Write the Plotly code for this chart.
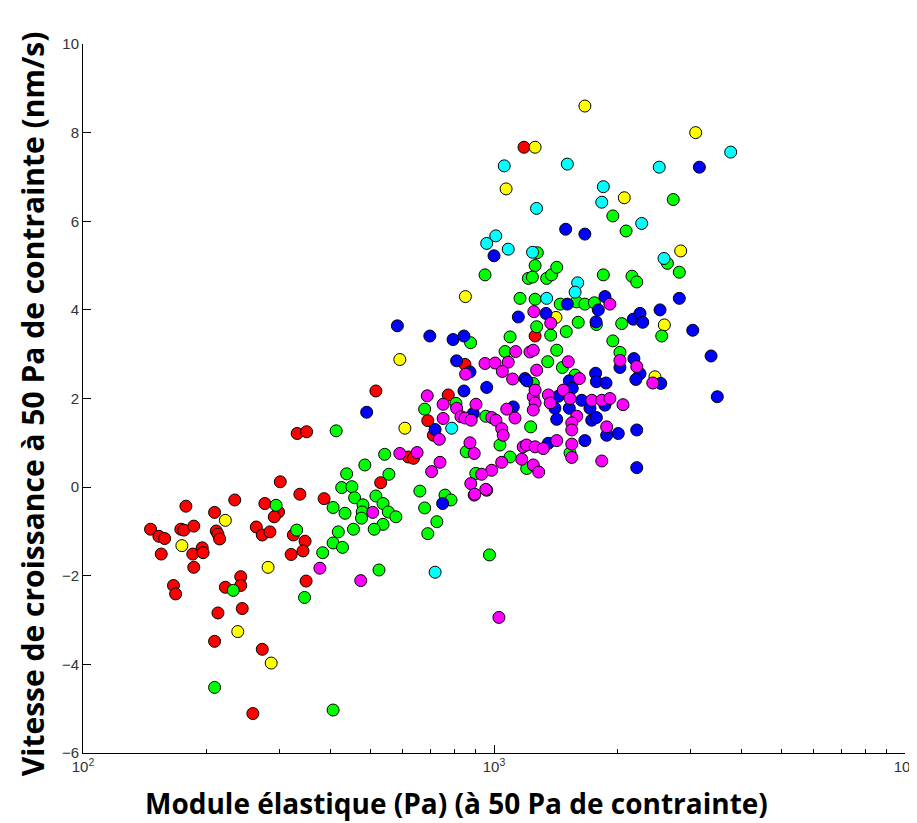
import plotly.graph_objects as go

# Data: elastic modulus (Pa) vs growth speed (nm/s)
red_x = [332, 350, 302, 337, 386, 178, 234, 277, 299, 292, 209, 146, 153, 158, 173, 176,
         186, 211, 213, 215, 264, 273, 285, 325, 347, 343, 321, 155, 185, 195, 196, 186,
         242, 349, 166, 168, 222, 242, 213, 244, 209, 273, 259, 516, 1259, 850, 774, 690,
         712, 619, 637, 530, 1183]
red_y = [1.21, 1.25, 0.12, -0.16, -0.26, -0.43, -0.29, -0.37, -0.56, -0.67, -0.57, -0.95,
         -1.11, -1.16, -0.95, -0.97, -0.88, -0.99, -1.06, -1.17, -0.9, -1.08, -1.01, -1.08,
         -1.22, -1.44, -1.52, -1.51, -1.51, -1.37, -1.48, -1.81, -2.02, -2.12, -2.22, -2.41,
         -2.26, -2.22, -2.84, -2.74, -3.48, -3.66, -5.11, 2.17, 3.41, 2.77, 2.08, 1.5,
         1.17, 0.68, 0.65, 0.1, 7.67]

yellow_x = [222, 174, 282, 238, 287, 590, 607, 852, 1259, 1070, 1664, 3095, 2075, 2846,
            1415, 2597, 2464]
yellow_y = [-0.75, -1.32, -1.81, -3.26, -3.97, 2.88, 1.33, 4.3, 7.67, 6.73, 8.6, 8.0, 6.53,
            5.33, 3.83, 3.66, 2.49]

green_x = [413, 426, 438, 406, 434, 295, 331, 418, 406, 428, 383, 232, 346, 209, 406,
           1157, 1259, 877, 1094, 1064, 1246, 808, 678, 955, 1228, 1034, 856, 542, 485,
           555, 451, 660, 516, 458, 760, 1094, 903, 1201,
           480, 478, 476, 537, 553, 577, 537, 511, 455, 678, 726, 690, 786, 975, 525,
           1259, 951, 1212, 1240, 1275, 1343, 1380, 1421, 1845, 2166, 2225, 1946, 2096,
           2730, 2642, 2824,
           1449, 1588, 1664, 1755, 1270, 1374, 1499, 1603, 1775, 2045, 2559, 1946, 2025,
           1421, 1351, 1467, 1575, 1531]
green_y = [1.27, -0.01, 0.3, -0.46, -0.59, -0.41, -0.97, -1.01, -1.26, -1.36, -1.48, -2.33,
           -2.49, -4.52, -5.03,
           4.26, 4.24, 3.26, 3.39, 3.06, 2.34, 1.89, 1.76, 1.6, 1.36, 0.95, 0.8, 0.74, 0.5,
           0.29, 0.01, -0.09, -0.2, -0.24, -0.18, 0.68, 0.31, 0.42,
           -0.4, -0.56, -0.7, -0.37, -0.56, -0.67, -0.84, -0.95, -0.95, -0.47, -0.78, -1.05,
           -0.29, -1.53, -1.87,
           5.0, 4.79, 4.71, 4.74, 5.29, 4.71, 4.79, 4.96, 4.79, 4.76, 4.63, 6.12, 5.78,
           6.49, 5.05, 4.85,
           4.13, 4.18, 4.13, 4.16, 3.62, 3.43, 3.51, 3.72, 3.67, 3.69, 3.41, 3.3, 3.04,
           3.09, 2.83, 2.7, 2.53, 0.77]

cyan_x = [789, 719, 1059, 1269, 1010, 960, 1083, 1241, 1508, 2524, 3766, 1845, 1829, 2287,
          2592, 1598, 1575, 1343]
cyan_y = [1.33, -1.92, 7.25, 6.29, 5.67, 5.5, 5.37, 5.3, 7.29, 7.22, 7.56, 6.78, 6.43,
          5.95, 5.16, 4.61, 4.4, 4.26]

blue_x = [582, 698, 795, 845, 811, 874, 490, 845, 960, 890, 719, 1190, 1202, 1114, 1146,
          750, 1000, 3160, 1494, 1664, 1862, 2824, 1508, 1338, 1794, 1771, 2182, 2266,
          2301, 2535, 3045, 3374, 3494, 2025, 2190, 2266, 2214, 2545, 1525, 1550, 1767,
          1775, 1873, 1434, 1634, 1862, 1712, 1525, 1407, 1421, 1729, 1775, 1880, 2006,
          2225, 1664, 1356, 2225]
blue_y = [3.64, 3.41, 3.33, 3.41, 2.85, 2.6, 1.69, 2.17, 2.25, 1.66, 1.3, 2.45, 2.4, 1.81,
          3.84, -0.37, 5.22, 7.22, 5.82, 5.71, 4.3, 4.26, 4.13, 3.92, 4.0, 3.73, 3.79,
          3.92, 3.72, 4.0, 3.54, 2.96, 2.04, 2.7, 2.9, 2.56, 2.43, 2.34, 2.4, 2.23, 2.57,
          2.38, 2.35, 2.05, 1.96, 1.85, 1.78, 1.78, 1.78, 1.53, 1.51, 1.57, 1.17, 1.21,
          1.29, 1.05, 0.99, 0.44]

magenta_x = [377, 474, 507, 895, 960, 1028, 1250, 853, 951, 1006, 1083, 1048, 1129, 1223,
             1246, 1270, 1110, 688, 752, 811, 904, 752, 831, 850, 880, 987, 1011, 1074,
             1125, 1246, 1259, 1246, 736, 1044, 1053, 874, 895, 1178, 1200, 1259, 590,
             650, 739, 705, 1168, 1044, 987, 933, 878, 955, 898, 1246, 1285,
             1914, 1374, 1516, 1613, 1475, 2025, 2225, 2434, 1259, 1356, 1370, 1531, 1729,
             1829, 1914, 2060, 1590, 1546, 1546, 1880, 1546, 1421, 1318, 1546, 1829]
magenta_y = [-1.83, -2.11, -0.57, -0.18, -0.07, -2.94, 3.96, 2.55, 2.79, 2.8, 2.82, 2.61,
             3.06, 3.05, 3.09, 2.64, 2.44, 2.06, 1.87, 1.78, 1.87, 1.55, 1.59, 1.56, 1.51,
             1.57, 1.51, 1.76, 1.56, 2.04, 1.9, 1.74, 1.08, 1.32, 1.17, 1.0, 0.76, 0.91,
             0.95, 0.91, 0.76, 0.78, 0.56, 0.35, 0.63, 0.56, 0.38, 0.29, 0.08, -0.05,
             -0.16, 0.5, 0.34,
             4.13, 3.7, 2.83, 2.45, 2.19, 2.86, 2.72, 2.35, 2.19, 2.08, 1.9, 2.0, 1.96,
             1.96, 2.0, 1.86, 1.6, 1.45, 1.29, 1.36, 0.97, 1.05, 0.87, 0.67, 0.59]

SERIES = [
    (red_x, red_y, "#ff0000"),
    (yellow_x, yellow_y, "#ffff00"),
    (green_x, green_y, "#00ff00"),
    (cyan_x, cyan_y, "#00ffff"),
    (blue_x, blue_y, "#0000ff"),
    (magenta_x, magenta_y, "#ff00ff"),
]

X_TICKS = [100, 1000, 10000]
X_TICK_TEXT = ["10<sup>2</sup>", "10<sup>3</sup>", "10<sup>4</sup>"]
X_MINOR = [200, 300, 400, 500, 600, 700, 800, 900,
           2000, 3000, 4000, 5000, 6000, 7000, 8000, 9000]
Y_TICKS = [-6, -4, -2, 0, 2, 4, 6, 8, 10]

TICK_FONT = dict(family="Liberation Sans", size=15, color="#333333")

fig = go.Figure()
for xs, ys, color in SERIES:
    fig.add_trace(go.Scatter(
        x=xs, y=ys, mode="markers",
        marker=dict(size=12, color=color, line=dict(color="black", width=1)),
        showlegend=False,
    ))

# page body has an 8px margin, so the figure margins are trimmed by that
fig.update_layout(
    width=917, height=823,
    paper_bgcolor="white", plot_bgcolor="white",
    margin=dict(l=75, r=20, t=36, b=78),
    showlegend=False,
)
fig.update_xaxes(
    type="log", range=[2, 4], automargin=False,
    tickvals=X_TICKS, ticktext=X_TICK_TEXT, tickfont=TICK_FONT,
    ticks="inside", ticklen=8, tickcolor="black",
    minor=dict(tickvals=X_MINOR, ticks="inside", ticklen=4, tickcolor="black"),
    showline=True, linecolor="black", linewidth=1,
    showgrid=False, zeroline=False,
)
fig.update_yaxes(
    range=[-6, 10], tickvals=Y_TICKS, tickfont=TICK_FONT, automargin=False,
    ticks="inside", ticklen=8, tickcolor="black",
    showline=True, linecolor="black", linewidth=1,
    showgrid=False, zeroline=False,
)

fig.add_annotation(
    text="<b>Module élastique (Pa) (à 50 Pa de contrainte)</b>",
    xref="paper", yref="paper", x=0.454, y=-0.07,
    xanchor="center", yanchor="middle", showarrow=False,
    font=dict(family="Open Sans", size=28, color="black"),
)
fig.add_annotation(
    text="<b>Vitesse de croissance à 50 Pa de contrainte (nm/s)</b>",
    xref="paper", yref="paper", x=-0.062, y=0.492, textangle=-90,
    xanchor="center", yanchor="middle", showarrow=False,
    font=dict(family="Open Sans", size=30, color="black"),
)

fig.write_html("out.html")
